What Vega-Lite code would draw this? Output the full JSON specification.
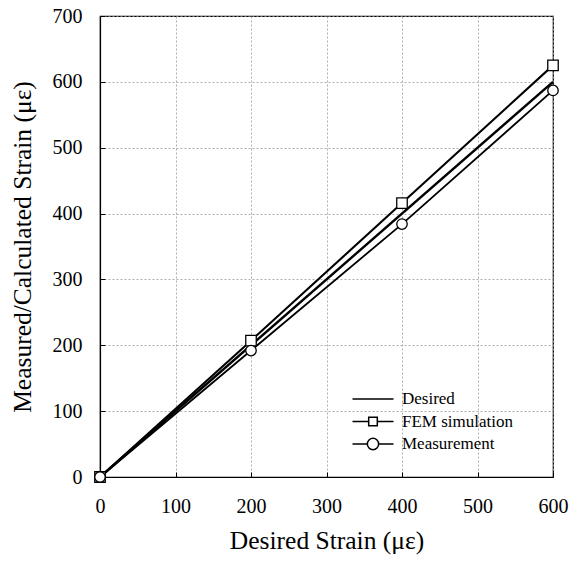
{
  "$schema": "https://vega.github.io/schema/vega-lite/v6.json",
  "width": 453,
  "height": 461,
  "autosize": {"type": "none"},
  "padding": {"left": 100, "top": 16, "right": 31, "bottom": 94},
  "background": "white",
  "config": {
    "font": "Liberation Serif",
    "view": {"stroke": "black", "strokeWidth": 1.2},
    "axis": {
      "labelFont": "Liberation Serif", "titleFont": "Liberation Serif",
      "labelFontSize": 20, "titleFontSize": 25.5, "titleFontWeight": "normal",
      "labelColor": "black", "titleColor": "black", "labelFlush": false,
      "domainColor": "black", "domainWidth": 1.2, "tickColor": "black", "tickSize": -5,
      "gridColor": "#999", "gridDash": [2, 2], "gridWidth": 0.8
    }
  },
  "data": {"values": [
    {"series": "Desired", "x": 0, "y": 0},
    {"series": "Desired", "x": 600, "y": 600},
    {"series": "FEM simulation", "x": 0, "y": 0},
    {"series": "FEM simulation", "x": 200, "y": 207},
    {"series": "FEM simulation", "x": 400, "y": 416},
    {"series": "FEM simulation", "x": 600, "y": 625},
    {"series": "Measurement", "x": 0, "y": 0},
    {"series": "Measurement", "x": 200, "y": 192},
    {"series": "Measurement", "x": 400, "y": 384},
    {"series": "Measurement", "x": 600, "y": 587}
  ]},
  "encoding": {
    "x": {"field": "x", "type": "quantitative", "scale": {"domain": [0, 600], "nice": false},
      "axis": {"title": "Desired Strain (με)", "values": [0,100,200,300,400,500,600], "labelPadding": 24, "titlePadding": 12}},
    "y": {"field": "y", "type": "quantitative", "scale": {"domain": [0, 700], "nice": false},
      "axis": {"title": "Measured/Calculated Strain (με)", "values": [0,100,200,300,400,500,600,700], "labelPadding": 23, "titlePadding": 17}}
  },
  "resolve": {"scale": {"shape": "independent"}, "legend": {"shape": "independent"}},
  "layer": [
    {
      "mark": {"type": "line", "color": "black"},
      "encoding": {
        "detail": {"field": "series"},
        "strokeWidth": {"field": "series", "type": "nominal", "scale": {"domain": ["Desired", "FEM simulation", "Measurement"], "range": [2.4, 1.8, 1.8]}, "legend": null}
      }
    },
    {
      "transform": [{"filter": "datum.series !== 'Desired'"}],
      "mark": {"type": "point", "filled": true, "fill": "white", "stroke": "black", "strokeWidth": 1.3, "opacity": 1},
      "encoding": {
        "shape": {"field": "series", "type": "nominal", "scale": {"domain": ["FEM simulation", "Measurement"], "range": ["square", "circle"]}, "legend": null},
        "size": {"value": 110}
      }
    },
    {
      "transform": [{"filter": "datum.x < 0"}],
      "mark": {"type": "point", "filled": false, "fill": "white", "stroke": "black", "strokeWidth": 2, "opacity": 1},
      "encoding": {
        "shape": {"field": "series", "type": "nominal",
          "scale": {"domain": ["Desired", "FEM simulation", "Measurement"],
            "range": ["M-2,0H2", "M-2,0H-0.42M0.42,0H2M-0.42,-0.42H0.42V0.42H-0.42Z", "M-2,0H-0.55M0.55,0H2M0.55,0A0.55,0.55 0 1,1 -0.55,0A0.55,0.55 0 1,1 0.55,0Z"]},
          "legend": {
            "title": null, "orient": "none", "legendX": 262, "legendY": 372, "padding": 0,
            "symbolSize": 420,
            "labelFont": "Liberation Serif", "labelFontSize": 17, "labelColor": "black",
            "labelOffset": 18, "rowPadding": 3.5,
            "encode": {
              "symbols": {
                "update": {
                  "stroke": {"value": "black"},
                  "fill": {"value": "white"},
                  "opacity": {"value": 1},
                  "strokeOpacity": {"value": 1},
                  "fillOpacity": {"value": 1},
                  "strokeWidth": {"value": 2}
                }
              }
            }
          }
        }
      }
    }
  ]
}
